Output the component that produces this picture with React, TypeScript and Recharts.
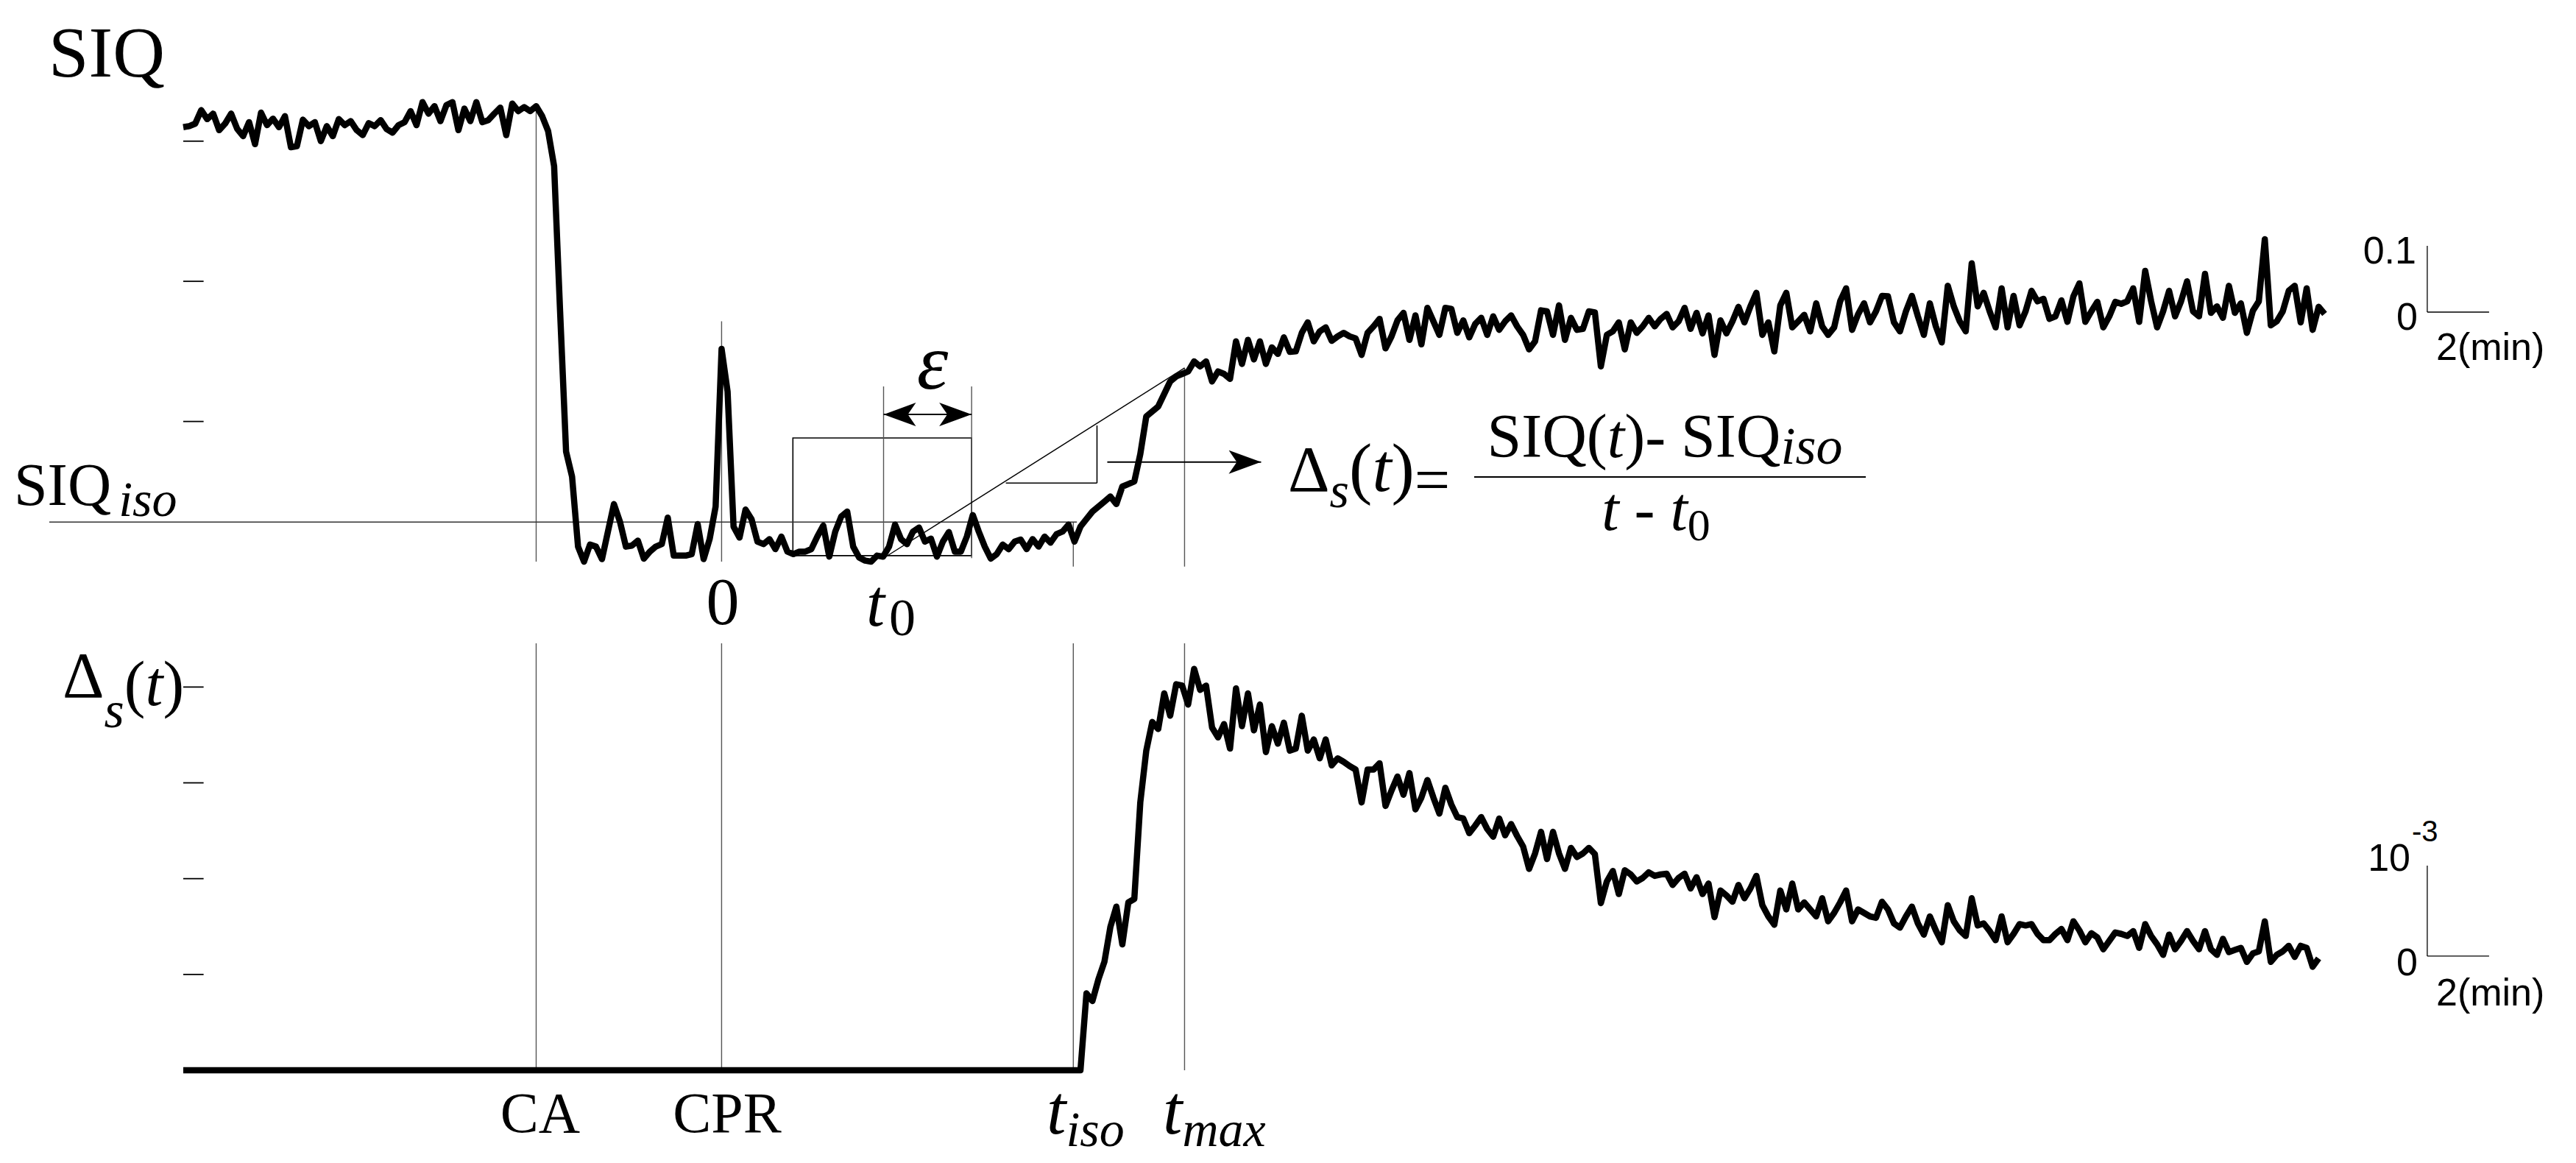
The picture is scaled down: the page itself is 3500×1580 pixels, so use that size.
import React from "react";
import {
  LineChart,
  Line,
  XAxis,
  YAxis,
  ReferenceLine,
  ReferenceArea,
} from "recharts";

// time axis (axis units), t = 0 at CPR
const T_START = -22.5;
const T_END = 67.14;
const STEP = 0.25;

// SIQ samples, 4 per row
// before arrest, from t = -22.5
const siqBaseline = [
  0.868, 0.87, 0.875, 0.902,
  0.884, 0.895, 0.862, 0.875,
  0.895, 0.865, 0.85, 0.878,
  0.834, 0.897, 0.872, 0.885,
  0.868, 0.89, 0.828, 0.83,
  0.883, 0.87, 0.878, 0.84,
  0.87, 0.85, 0.884, 0.872,
  0.88, 0.862, 0.852, 0.876,
  0.87, 0.882, 0.864, 0.857,
  0.872, 0.878, 0.9, 0.872,
  0.918, 0.895, 0.91, 0.88,
  0.912, 0.918, 0.862, 0.905,
  0.88, 0.918, 0.878, 0.882,
  0.895, 0.907, 0.852, 0.915,
  0.9, 0.908, 0.9, 0.91,
];

// arrest + CPR, from t = -7.5
const siqArrest = [
  0.89, 0.86, 0.79, 0.5,
  0.22, 0.17, 0.03, 0.0,
  0.034, 0.03, 0.005, 0.06,
  0.115, 0.08, 0.03, 0.032,
  0.042, 0.006, 0.02, 0.03,
  0.035, 0.088, 0.012, 0.012,
  0.012, 0.015, 0.075, 0.005,
  0.045, 0.11, 0.425, 0.34,
  0.07, 0.048, 0.104, 0.085,
  0.04, 0.035, 0.045, 0.025,
  0.05, 0.02, 0.015, 0.02,
  0.02, 0.025, 0.05, 0.072,
  0.01, 0.06, 0.09, 0.1,
  0.03, 0.008, 0.002, 0.0,
  0.012, 0.01, 0.03, 0.074,
  0.045, 0.035, 0.06, 0.068,
  0.04, 0.046, 0.01, 0.04,
  0.059, 0.02, 0.02, 0.05,
  0.093, 0.06, 0.03, 0.006,
  0.015, 0.034, 0.025, 0.04,
  0.044, 0.025, 0.045, 0.03,
  0.05, 0.038, 0.055, 0.06,
  0.074, 0.04, 0.07, 0.085,
];

// recovery, from t = 15.5
const siqRecovery = [
  0.1, 0.11, 0.12, 0.13,
  0.115, 0.15, 0.155, 0.16,
  0.215, 0.29, 0.3, 0.31,
  0.335, 0.36, 0.37, 0.375,
  0.38, 0.4, 0.39, 0.4,
  0.36, 0.38, 0.375, 0.365,
  0.44, 0.395, 0.443, 0.404,
  0.44, 0.395, 0.428, 0.415,
  0.448, 0.419, 0.42, 0.457,
  0.478, 0.44, 0.46, 0.468,
  0.441, 0.45, 0.457, 0.45,
  0.446, 0.413, 0.457, 0.47,
  0.485, 0.426, 0.45, 0.482,
  0.497, 0.443, 0.492, 0.434,
  0.507, 0.48, 0.453, 0.507,
  0.505, 0.457, 0.482, 0.448,
  0.475, 0.487, 0.453, 0.49,
  0.463, 0.48, 0.492, 0.47,
  0.453, 0.424, 0.44, 0.502,
  0.5, 0.453, 0.512, 0.443,
  0.487, 0.463, 0.465, 0.5,
  0.498, 0.39, 0.453, 0.46,
  0.478, 0.424, 0.478, 0.457,
  0.47, 0.487, 0.47, 0.485,
  0.495, 0.468, 0.48, 0.507,
  0.465, 0.497, 0.456, 0.492,
  0.413, 0.482, 0.456, 0.48,
  0.509, 0.478, 0.51, 0.537,
  0.453, 0.478, 0.42, 0.512,
  0.537, 0.468, 0.48, 0.493,
  0.46, 0.516, 0.47, 0.453,
  0.468, 0.52, 0.546, 0.463,
  0.494, 0.516, 0.478, 0.5,
  0.531, 0.53, 0.478, 0.46,
  0.5, 0.531, 0.49, 0.453,
  0.516, 0.47, 0.438, 0.551,
  0.51, 0.48, 0.46, 0.596,
  0.51, 0.537, 0.5, 0.468,
  0.546, 0.468, 0.531, 0.472,
  0.5, 0.541, 0.52, 0.525,
  0.485, 0.49, 0.522, 0.479,
  0.53, 0.556, 0.479, 0.5,
  0.519, 0.468, 0.49, 0.519,
  0.515, 0.52, 0.546, 0.479,
  0.581, 0.52, 0.468, 0.5,
  0.541, 0.49, 0.52, 0.56,
  0.5, 0.49, 0.575, 0.497,
  0.51, 0.487, 0.551, 0.497,
  0.516, 0.457, 0.501, 0.52,
  0.644, 0.472, 0.48, 0.5,
  0.541, 0.551, 0.478, 0.546,
  0.463, 0.509, 0.495,
];

// Delta_s(t), from t = 15.25 (zero before t_iso)
const deltaRise = [
  1.1, 0.99, 1.3, 1.55,
  2.05, 2.34, 1.8, 2.4,
  2.45, 3.83, 4.57, 4.98,
  4.88, 5.39, 5.07, 5.52,
  5.5, 5.23, 5.74, 5.44,
  5.5, 4.9, 4.76, 4.95,
  4.6, 5.46, 4.92, 5.39,
  4.86, 5.23, 4.55, 4.92,
  4.67, 4.97, 4.57, 4.6,
  5.07, 4.57, 4.73, 4.46,
  4.73, 4.36, 4.46, 4.41,
  4.35, 4.3, 3.83, 4.3,
  4.3, 4.39, 3.78, 4.0,
  4.2, 3.94, 4.25, 3.73,
  3.9, 4.15, 3.9, 3.67,
  4.04, 3.8, 3.62, 3.6,
  3.39, 3.5, 3.62, 3.45,
  3.34, 3.6, 3.36, 3.52,
  3.35, 3.2, 2.88, 3.1,
  3.41, 3.02, 3.41, 3.1,
  2.88, 3.18, 3.05, 3.1,
  3.18, 3.09, 2.39, 2.7,
  2.85, 2.52, 2.86, 2.8,
  2.7, 2.75, 2.83, 2.78,
  2.8, 2.81, 2.65, 2.75,
  2.81, 2.6, 2.76, 2.52,
  2.67, 2.19, 2.57, 2.5,
  2.41, 2.65, 2.46, 2.6,
  2.78, 2.36, 2.2, 2.08,
  2.57, 2.3, 2.67, 2.3,
  2.4, 2.3, 2.2, 2.46,
  2.13, 2.25, 2.4, 2.57,
  2.13, 2.3, 2.25, 2.2,
  2.18, 2.41, 2.3, 2.1,
  2.04, 2.2, 2.34, 2.1,
  1.94, 2.2, 2.0, 1.83,
  2.36, 2.13, 2.0, 1.92,
  2.46, 2.07, 2.1, 1.99,
  1.86, 2.2, 1.83, 1.95,
  2.09, 2.07, 2.09, 1.95,
  1.86, 1.86, 1.95, 2.02,
  1.86, 2.13, 2.0, 1.83,
  1.96, 1.9, 1.73, 1.85,
  1.97, 1.95, 1.92, 1.99,
  1.75, 2.09, 1.92, 1.8,
  1.65, 1.94, 1.73, 1.85,
  1.99, 1.85, 1.73, 1.99,
  1.73, 1.65, 1.88, 1.69,
  1.72, 1.75, 1.55, 1.67,
  1.7, 2.13, 1.55, 1.65,
  1.7, 1.78, 1.62, 1.78,
  1.75, 1.48, 1.6,
];

// axes
const SIQ_MAX = 1.0926;
const DELTA_MAX = 6.105;
const siqTicks = [0.28, 0.56, 0.84];
const deltaTicks = [1.37, 2.74, 4.11, 5.48];
const TICK_LEN = 0.85;

// event times and levels
const tCA = -7.75;
const tCPR = 0;
const tBoxStart = 2.98;
const t0 = 6.77;
const tEps = 10.45;
const tIso = 14.7;
const tRiseStart = 15.0;
const tMax = 19.35;
const siqIso = 0.079;
const siqAtMax = 0.387;
const siqAtT0 = 0.007;

// printed scale bars ("2(min)", "0.1", "10^-3") in axis units
const barT = 71.29;
const barLenT = 2.585;
const barSiq = 0.4985;
const barLenSiq = 0.1324;
const barDelta = 1.632;
const barLenDelta = 1.294;

const siqData = [...siqBaseline, ...siqArrest, ...siqRecovery].map((v, i) => ({
  t: T_START + i * STEP,
  siq: v,
}));

const deltaData = [
  { t: T_START, d: 0 },
  { t: tRiseStart, d: 0 },
  ...deltaRise.map((v, i) => ({ t: tRiseStart + STEP + i * STEP, d: v })),
];

const serif = "'Liberation Serif', 'DejaVu Serif', serif";
const sans = "'Liberation Sans', Arial, sans-serif";
const axisStyle = { stroke: "#000", strokeWidth: 1.8 };
const thin = { stroke: "#000", strokeWidth: 1.6 };
const guide = { stroke: "#555", strokeWidth: 1.4 };
const bar = { stroke: "#000", strokeWidth: 1.3 };

function Arrow(props: any) {
  const { x1, y1, x2, y2, both } = props;
  return (
    <line
      x1={x1}
      y1={y1}
      x2={x2}
      y2={y2}
      stroke="#000"
      strokeWidth={2}
      markerEnd="url(#arrowHead)"
      markerStart={both ? "url(#arrowHead)" : undefined}
    />
  );
}

function tickMarks(values: number[]) {
  return values.map((v) => (
    <ReferenceLine
      key={`tick-${v}`}
      segment={[
        { x: T_START, y: v },
        { x: T_START + TICK_LEN, y: v },
      ]}
      {...axisStyle}
    />
  ));
}

export default function App() {
  return (
    <div
      style={{
        position: "absolute",
        left: 0,
        top: 0,
        width: 3500,
        height: 1580,
        background: "#fff",
      }}
    >
      <svg width={0} height={0} style={{ position: "absolute" }}>
        <defs>
          <marker
            id="arrowHead"
            viewBox="0 0 10 10"
            refX={10}
            refY={5}
            markerWidth={44}
            markerHeight={32}
            markerUnits="userSpaceOnUse"
            preserveAspectRatio="none"
            orient="auto-start-reverse"
          >
            <path d="M0,0 L10,5 L0,10 L2.5,5 z" fill="#000" />
          </marker>
        </defs>
      </svg>

      {/* upper panel: SIQ */}
      <div style={{ position: "absolute", left: 0, top: 0 }}>
        <LineChart
          width={3500}
          height={800}
          data={siqData}
          margin={{ top: 20, right: 337, bottom: 37, left: 249 }}
        >
          <XAxis
            type="number"
            dataKey="t"
            domain={[T_START, T_END]}
            tick={false}
            tickLine={false}
            height={0}
            axisLine={axisStyle}
          />
          <YAxis
            type="number"
            domain={[0, SIQ_MAX]}
            tick={false}
            tickLine={false}
            axisLine={axisStyle}
            width={0}
          />
          {tickMarks(siqTicks)}
          <ReferenceLine segment={[{ x: tCA, y: 0 }, { x: tCA, y: 0.91 }]} {...guide} />
          <ReferenceLine segment={[{ x: tCPR, y: 0 }, { x: tCPR, y: 0.48 }]} {...guide} />
          <ReferenceLine
            segment={[{ x: tIso, y: -0.01 }, { x: tIso, y: siqIso }]}
            ifOverflow="visible"
            {...guide}
          />
          <ReferenceLine
            segment={[{ x: tMax, y: -0.01 }, { x: tMax, y: siqAtMax }]}
            ifOverflow="visible"
            {...guide}
          />
          <ReferenceLine
            segment={[{ x: -28.1, y: siqIso }, { x: tIso + 0.15, y: siqIso }]}
            ifOverflow="visible"
            stroke="#333"
            strokeWidth={1.4}
          />
          <ReferenceArea
            x1={tBoxStart}
            x2={tEps}
            y1={0.012}
            y2={0.247}
            fill="none"
            fillOpacity={0}
            stroke="#000"
            strokeWidth={1.6}
            ifOverflow="visible"
          />
          <ReferenceLine segment={[{ x: t0, y: siqAtT0 }, { x: t0, y: 0.35 }]} {...guide} />
          <ReferenceLine segment={[{ x: tEps, y: siqAtT0 }, { x: tEps, y: 0.35 }]} {...guide} />
          <ReferenceLine
            segment={[{ x: t0, y: siqAtT0 }, { x: tMax, y: siqAtMax }]}
            stroke="#000"
            strokeWidth={1.4}
          />
          <ReferenceLine segment={[{ x: 11.88, y: 0.157 }, { x: 15.69, y: 0.157 }]} {...thin} />
          <ReferenceLine segment={[{ x: 15.69, y: 0.157 }, { x: 15.69, y: 0.272 }]} {...thin} />
          <ReferenceLine
            segment={[{ x: t0, y: 0.294 }, { x: tEps, y: 0.294 }]}
            shape={(p: any) => <Arrow {...p} both />}
          />
          <ReferenceLine
            segment={[{ x: 16.12, y: 0.199 }, { x: 22.55, y: 0.199 }]}
            shape={(p: any) => <Arrow {...p} />}
          />
          {/* scale bar: 0.1 SIQ, 2 min */}
          <ReferenceLine
            segment={[{ x: barT, y: barSiq }, { x: barT, y: barSiq + barLenSiq }]}
            ifOverflow="visible"
            {...bar}
          />
          <ReferenceLine
            segment={[{ x: barT, y: barSiq }, { x: barT + barLenT, y: barSiq }]}
            ifOverflow="visible"
            {...bar}
          />
          <Line
            type="linear"
            dataKey="siq"
            stroke="#000"
            strokeWidth={8.5}
            strokeLinejoin="round"
            dot={false}
            isAnimationActive={false}
          />
        </LineChart>
      </div>

      {/* lower panel: Delta_s(t) */}
      <div style={{ position: "absolute", left: 0, top: 800 }}>
        <LineChart
          width={3500}
          height={780}
          data={deltaData}
          margin={{ top: 74, right: 337, bottom: 126, left: 249 }}
        >
          <XAxis
            type="number"
            dataKey="t"
            domain={[T_START, T_END]}
            tick={false}
            tickLine={false}
            height={0}
            axisLine={axisStyle}
          />
          <YAxis
            type="number"
            domain={[0, DELTA_MAX]}
            tick={false}
            tickLine={false}
            axisLine={axisStyle}
            width={0}
          />
          {tickMarks(deltaTicks)}
          <ReferenceLine x={tCA} {...guide} />
          <ReferenceLine x={tCPR} {...guide} />
          <ReferenceLine x={tIso} {...guide} />
          <ReferenceLine x={tMax} {...guide} />
          {/* scale bar: 1e-3, 2 min */}
          <ReferenceLine
            segment={[{ x: barT, y: barDelta }, { x: barT, y: barDelta + barLenDelta }]}
            ifOverflow="visible"
            {...bar}
          />
          <ReferenceLine
            segment={[{ x: barT, y: barDelta }, { x: barT + barLenT, y: barDelta }]}
            ifOverflow="visible"
            {...bar}
          />
          <Line
            type="linear"
            dataKey="d"
            stroke="#000"
            strokeWidth={8.5}
            strokeLinejoin="round"
            dot={false}
            isAnimationActive={false}
          />
        </LineChart>
      </div>

      {/* labels */}
      <svg
        width={3500}
        height={1580}
        style={{ position: "absolute", left: 0, top: 0, pointerEvents: "none" }}
        fontFamily={serif}
        fill="#000"
      >
        <text x={66} y={104} fontSize={98}>SIQ</text>
        <text x={19} y={686} fontSize={82}>
          SIQ
          <tspan dx={10} dy={15} fontSize={68} fontStyle="italic">iso</tspan>
        </text>
        <text x={982} y={848} fontSize={90} textAnchor="middle">0</text>
        <text x={1177} y={850} fontSize={90}>
          <tspan fontStyle="italic">t</tspan>
          <tspan dx={6} dy={13} fontSize={72}>0</tspan>
        </text>
        <text x={1267} y={528} fontSize={108} fontStyle="italic" textAnchor="middle">ε</text>

        {/* formula */}
        <text x={1750} y={667} fontSize={88}>
          Δ
          <tspan dy={22} fontSize={68} fontStyle="italic">s</tspan>
          <tspan dy={-22} fontSize={94}>(</tspan>
          <tspan fontSize={94} fontStyle="italic">t</tspan>
          <tspan fontSize={94}>)</tspan>
          <tspan dy={14} fontSize={86}>=</tspan>
        </text>
        <text x={2262} y={621} fontSize={84} textAnchor="middle">
          SIQ(<tspan fontStyle="italic">t</tspan>)- SIQ
          <tspan dy={9} fontSize={72} fontStyle="italic">iso</tspan>
        </text>
        <line x1={2003} y1={648} x2={2535} y2={648} stroke="#000" strokeWidth={1.8} />
        <text x={2250} y={720} fontSize={84} textAnchor="middle">
          <tspan fontStyle="italic">t</tspan> - <tspan fontStyle="italic">t</tspan>
          <tspan dy={14} fontSize={62}>0</tspan>
        </text>

        {/* lower panel labels */}
        <text x={85} y={947} fontSize={88}>
          Δ
          <tspan dy={41} fontSize={70} fontStyle="italic">s</tspan>
          <tspan dy={-30} fontSize={86}>(</tspan>
          <tspan fontSize={86} fontStyle="italic">t</tspan>
          <tspan fontSize={86}>)</tspan>
        </text>
        <text x={734} y={1538} fontSize={78} textAnchor="middle">CA</text>
        <text x={988} y={1538} fontSize={78} textAnchor="middle">CPR</text>
        <text x={1422} y={1540} fontSize={95}>
          <tspan fontStyle="italic">t</tspan>
          <tspan dy={17} fontSize={68} fontStyle="italic">iso</tspan>
        </text>
        <text x={1580} y={1540} fontSize={95}>
          <tspan fontStyle="italic">t</tspan>
          <tspan dy={17} fontSize={68} fontStyle="italic">max</tspan>
        </text>

        {/* scale bar labels */}
        <g fontFamily={sans} fontSize={52}>
          <text x={3283} y={358} textAnchor="end">0.1</text>
          <text x={3285} y={448} textAnchor="end">0</text>
          <text x={3310} y={489}>2(min)</text>
          <text x={3275} y={1183} textAnchor="end">10</text>
          <text x={3277} y={1143} fontSize={40}>-3</text>
          <text x={3285} y={1325} textAnchor="end">0</text>
          <text x={3310} y={1366}>2(min)</text>
        </g>
      </svg>
    </div>
  );
}
